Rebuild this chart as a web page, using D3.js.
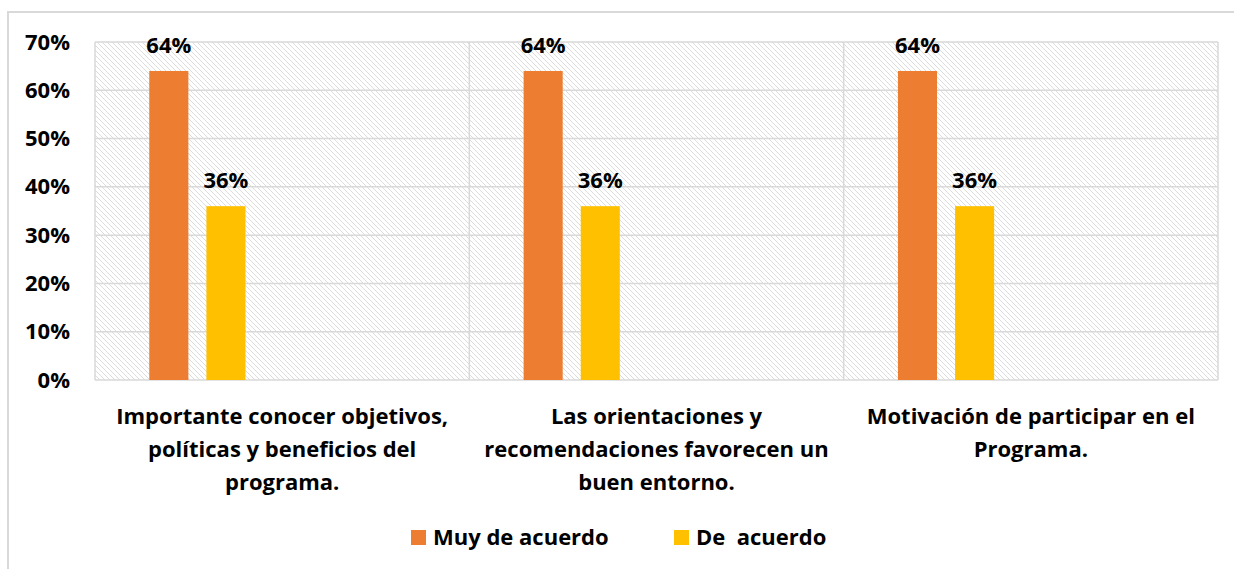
<!DOCTYPE html>
<html>
<head>
<meta charset="utf-8">
<script src="https://cdn.jsdelivr.net/npm/d3@7"></script>
<style>
  body { margin: 0; background: #fff; }
  text { font-family: "Open Sans", sans-serif; font-weight: bold; fill: #000; }
</style>
</head>
<body>
<div id="chart"></div>
<script>
// chart data
var categories = [
    ["Importante conocer objetivos,", "políticas y beneficios del", "programa."],
    ["Las orientaciones y", "recomendaciones favorecen un", "buen entorno."],
    ["Motivación de participar en el", "Programa."]
];
var seriesNames = ["Muy de acuerdo", "De  acuerdo"];
var muyDeAcuerdo = [0.64, 0.64, 0.64];
var deAcuerdo = [0.36, 0.36, 0.36];
var yTicks = [0, 0.1, 0.2, 0.3, 0.4, 0.5, 0.6, 0.7];
var colors = ["#ED7D31", "#FFC000"];

var width = 1234, height = 569,
    plot = {left: 95, right: 1218, top: 42, bottom: 380};

var svg = d3.select("#chart").append("svg").attr("width", width).attr("height", height);

// hatch fill for plot area
var pat = svg.append("defs").append("pattern")
    .attr("id", "hatch").attr("patternUnits", "userSpaceOnUse")
    .attr("width", 5).attr("height", 5);
pat.append("path").attr("d", "M-1,-1 L6,6 M-1,4 L1,6 M4,-1 L6,1")
    .attr("stroke", "#dcdcdc").attr("stroke-width", 1);

// outer chart border
svg.append("rect").attr("x", 8).attr("y", 12).attr("width", width + 10).attr("height", height)
    .attr("fill", "none").attr("stroke", "#d9d9d9").attr("stroke-width", 2);

var x0 = d3.scaleBand().domain(d3.range(categories.length)).range([plot.left, plot.right]);
var x1 = d3.scaleBand().domain(seriesNames)
    .range([x0.bandwidth() * 0.145, x0.bandwidth() * 0.402]).paddingInner(0.316);
var y = d3.scaleLinear().domain([0, 0.7]).range([plot.bottom, plot.top]);

svg.append("rect").attr("x", plot.left).attr("y", plot.top)
    .attr("width", plot.right - plot.left).attr("height", plot.bottom - plot.top)
    .attr("fill", "url(#hatch)");

// gridlines
svg.append("g").selectAll("line").data(yTicks).enter().append("line")
    .attr("x1", plot.left).attr("x2", plot.right)
    .attr("y1", function(d) { return y(d); }).attr("y2", function(d) { return y(d); })
    .attr("stroke", "#d9d9d9").attr("stroke-width", 1.5);
svg.append("g").selectAll("line").data(d3.range(categories.length + 1)).enter().append("line")
    .attr("x1", function(i) { return plot.left + i * x0.step(); })
    .attr("x2", function(i) { return plot.left + i * x0.step(); })
    .attr("y1", plot.top).attr("y2", plot.bottom)
    .attr("stroke", "#d9d9d9").attr("stroke-width", 1.5);

// y axis
var yAxis = svg.append("g").attr("transform", "translate(" + (plot.left - 25) + ",0)")
    .call(d3.axisLeft(y).tickValues(yTicks).tickFormat(d3.format(".0%")).tickSize(0).tickPadding(0));
yAxis.select(".domain").remove();
yAxis.selectAll("text").style("font-size", "22px").style("font-family", "'Open Sans', sans-serif")
    .attr("font-weight", "bold").attr("fill", "#000");

// bars
var series = [muyDeAcuerdo, deAcuerdo];
var groups = svg.append("g").selectAll("g").data(categories).enter().append("g")
    .attr("transform", function(d, i) { return "translate(" + x0(i) + ",0)"; });

groups.each(function(d, i) {
    var g = d3.select(this);
    series.forEach(function(vals, s) {
        g.append("rect")
            .attr("x", x1(seriesNames[s])).attr("width", x1.bandwidth())
            .attr("y", y(vals[i])).attr("height", y(0) - y(vals[i]))
            .attr("fill", colors[s]);
        g.append("text")
            .attr("x", x1(seriesNames[s]) + x1.bandwidth() / 2)
            .attr("y", y(vals[i]) - 18)
            .attr("text-anchor", "middle").style("font-size", "22px")
            .text(d3.format(".0%")(vals[i]));
    });
    var t = g.append("text").attr("text-anchor", "middle").style("font-size", "22px")
        .attr("transform", "translate(" + x0.bandwidth() / 2 + ",424)");
    d.forEach(function(line, k) {
        t.append("tspan").attr("x", 0).attr("dy", k ? 33 : 0).text(line);
    });
});

// legend
var legend = [{x: 411}, {x: 674}];
legend.forEach(function(l, s) {
    svg.append("rect").attr("x", l.x).attr("y", 530).attr("width", 15).attr("height", 15).attr("fill", colors[s]);
    svg.append("text").attr("x", l.x + 22).attr("y", 545).style("font-size", "22px")
        .attr("xml:space", "preserve").style("white-space", "pre").text(seriesNames[s]);
});
</script>
</body>
</html>
